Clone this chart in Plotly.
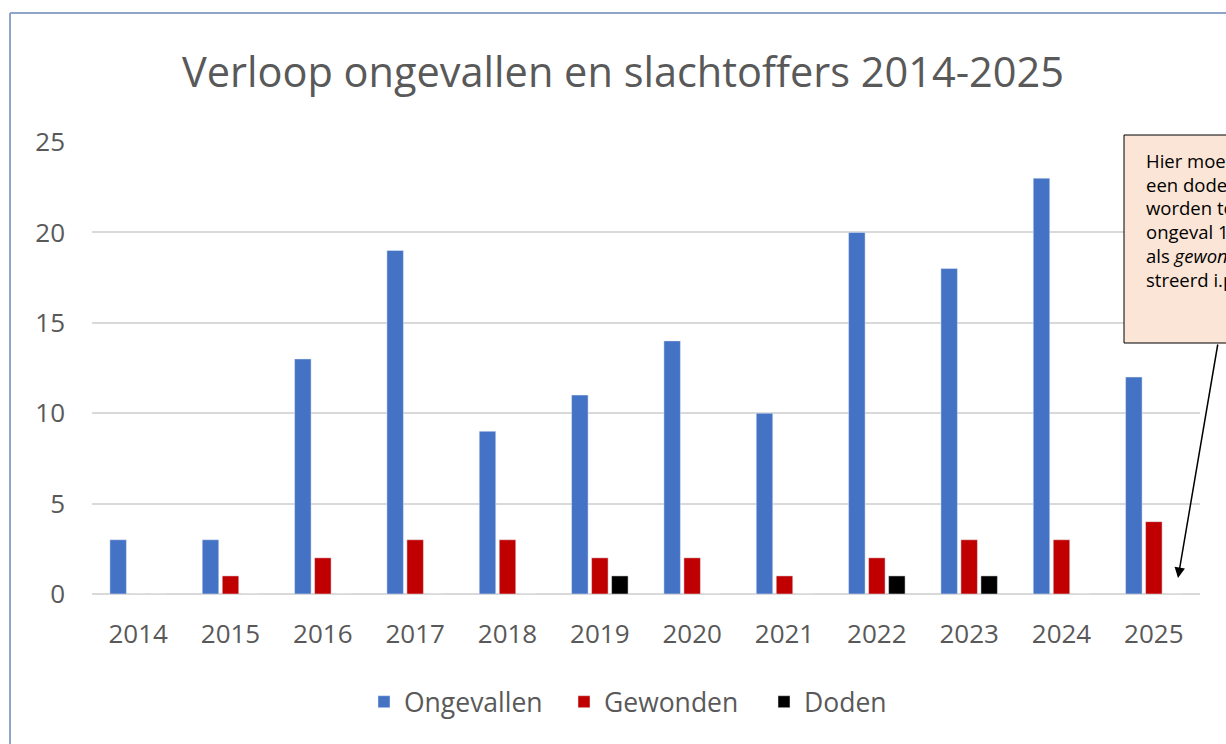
import plotly.graph_objects as go

# data
years = ['2014', '2015', '2016', '2017', '2018', '2019', '2020', '2021', '2022', '2023', '2024', '2025']
ongevallen = [3, 3, 13, 19, 9, 11, 14, 10, 20, 18, 23, 12]
gewonden = [0, 1, 2, 3, 3, 2, 2, 1, 2, 3, 3, 4]
doden = [0, 0, 0, 0, 0, 1, 0, 0, 1, 1, 0, 0]
y_ticks = [0, 5, 10, 15, 20, 25]

note_lines = [
    'Hier moet nog',
    'een dodelijk slachtoffer',
    'worden toegevoegd; het',
    'ongeval 18-03-2025 is',
    'als <i>gewonde</i> geregi-',
    'streerd i.p.v. dode.',
]

W, H = 1226, 744
L, R, T, B = 92, 26, 142, 150
PW, PH = W - L - R, H - T - B


def px(x):
    return (x - L) / PW


def py(y):
    return (H - B - y) / PH


TXT = '#595959'
FONT = 'Open Sans'

fig = go.Figure()
fig.add_trace(go.Bar(x=years, y=ongevallen, name='Ongevallen', marker_color='#4472C4'))
fig.add_trace(go.Bar(x=years, y=gewonden, name='Gewonden', marker_color='#C00000'))
fig.add_trace(go.Bar(x=years, y=doden, name='Doden', marker_color='#000000'))

shapes = [
    # chart area border (left and top)
    dict(type='line', xref='paper', yref='paper', x0=px(10), y0=py(760), x1=px(10), y1=py(13),
         line=dict(color='#8EA4C8', width=2)),
    dict(type='line', xref='paper', yref='paper', x0=px(10), y0=py(13), x1=px(1240), y1=py(13),
         line=dict(color='#8EA4C8', width=2)),
    # note box
    dict(type='rect', xref='paper', yref='paper', x0=px(1124), y0=py(343), x1=px(1260), y1=py(135),
         fillcolor='#FBE5D6', line=dict(color='#000000', width=1), layer='above'),
]

annotations = []
for i, line in enumerate(note_lines):
    annotations.append(dict(
        xref='paper', yref='paper', x=px(1144), y=py(160.5 + i * 23.7),
        xanchor='left', yanchor='middle', align='left', showarrow=False,
        text=line, font=dict(family=FONT, size=18.5, color='#000000'),
    ))
# arrow from the note to the 2025 group
annotations.append(dict(
    xref='paper', yref='paper', x=px(1178), y=py(578), text='',
    showarrow=True, ax=40, ay=-235, arrowhead=2, arrowsize=1.4, arrowwidth=1.5,
    arrowcolor='#000000', standoff=0,
))

fig.update_layout(
    width=W, height=H,
    margin=dict(l=L, r=R, t=T, b=B),
    paper_bgcolor='white', plot_bgcolor='white',
    font=dict(family=FONT, color=TXT),
    title=dict(text='Verloop ongevallen en slachtoffers 2014-2025',
               x=623 / W, xanchor='center', y=1 - 72 / H, yanchor='middle',
               font=dict(family=FONT, size=41.5, color=TXT)),
    barmode='group', bargap=0.35, bargroupgap=0.175,
    legend=dict(orientation='h', x=px(364), xanchor='left', y=py(702), yanchor='middle',
                entrywidth=155, entrywidthmode='pixels',
                font=dict(family=FONT, size=26.5, color=TXT), traceorder='normal'),
    shapes=shapes,
    annotations=annotations,
)
fig.update_xaxes(showgrid=False, showline=False, ticks='', ticklabelstandoff=22,
                 tickfont=dict(family=FONT, size=26, color=TXT))
fig.update_yaxes(range=[0, 25], tickvals=y_ticks, showgrid=True, gridcolor='#D9D9D9', gridwidth=2,
                 zeroline=True, zerolinecolor='#D9D9D9', zerolinewidth=2, showline=False,
                 ticks='', ticklabelstandoff=26, tickfont=dict(family=FONT, size=26, color=TXT))

# the page is photographed at its top-left corner, so drop the default body margin
fig.write_html('out.html', config={'displayModeBar': False},
               post_script="document.body.style.margin='0';")
